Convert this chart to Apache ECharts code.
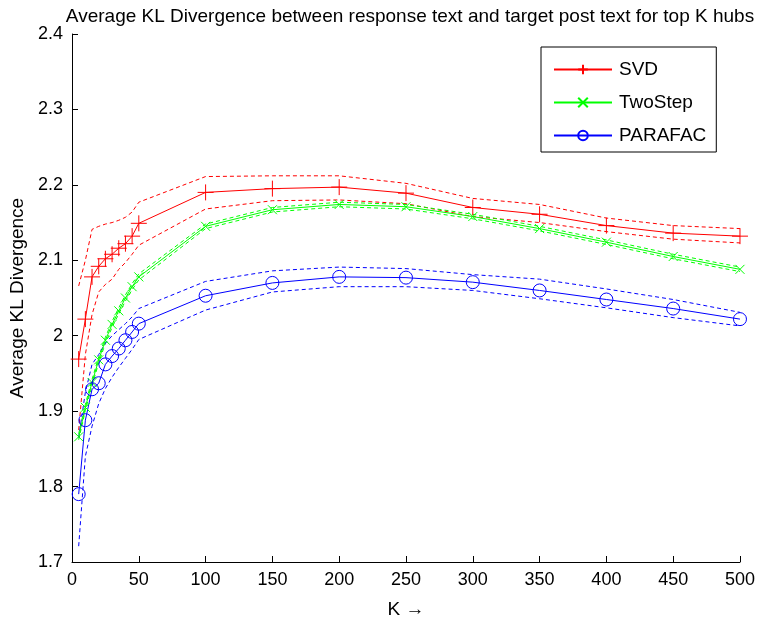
<!DOCTYPE html>
<html>
<head>
<meta charset="utf-8">
<script src="https://cdn.jsdelivr.net/npm/echarts@6/dist/echarts.min.js"></script>
<style>html,body{margin:0;padding:0;background:#fff}#c{width:758px;height:624px}</style>
</head>
<body>
<div id="c"></div>
<script>
const K = [5,10,15,20,25,30,35,40,45,50,100,150,200,250,300,350,400,450,500];
const svd    = [1.969,2.022,2.078,2.092,2.102,2.108,2.116,2.122,2.132,2.149,2.190,2.195,2.197,2.189,2.170,2.161,2.146,2.136,2.132];
const svdHi  = [2.066,2.100,2.141,2.145,2.148,2.150,2.153,2.157,2.164,2.177,2.211,2.212,2.212,2.202,2.182,2.174,2.156,2.146,2.142];
const svdLo  = [1.875,1.975,2.028,2.058,2.068,2.075,2.088,2.097,2.108,2.120,2.168,2.179,2.180,2.175,2.158,2.150,2.138,2.128,2.123];
const twostep= [1.866,1.905,1.938,1.968,1.994,2.015,2.033,2.050,2.065,2.078,2.145,2.167,2.174,2.171,2.158,2.142,2.124,2.105,2.088];
const twoHi  = [1.870,1.909,1.942,1.972,1.998,2.019,2.037,2.054,2.069,2.082,2.148,2.170,2.177,2.174,2.161,2.145,2.127,2.108,2.091];
const twoLo  = [1.862,1.901,1.934,1.964,1.990,2.011,2.029,2.046,2.061,2.074,2.142,2.164,2.171,2.168,2.155,2.139,2.121,2.102,2.085];
const parafac= [1.790,1.888,1.929,1.937,1.962,1.973,1.983,1.994,2.005,2.016,2.053,2.070,2.078,2.077,2.071,2.060,2.048,2.036,2.022];
const parHi  = [1.865,1.925,1.962,1.975,1.990,2.000,2.008,2.016,2.025,2.036,2.072,2.086,2.091,2.089,2.081,2.075,2.062,2.048,2.031];
const parLo  = [1.721,1.840,1.880,1.910,1.930,1.945,1.958,1.970,1.982,1.995,2.034,2.058,2.065,2.065,2.060,2.049,2.037,2.024,2.013];

const names = ['SVD','TwoStep','PARAFAC'];
const colors = ['#ff0000','#00ff00','#0000ff'];
const titleText = 'Average KL Divergence between response text and target post text for top K hubs';
const xName = 'K \u2192';
const yName = 'Average KL Divergence';

const pair = ys => K.map((k,i)=>[k, ys[i]]);
const FONT = 'Liberation Sans';

function mainSeries(name, ys, color, symbol, size, fill){
  return {name, type:'line', data:pair(ys), symbol, symbolSize:size, showSymbol:true,
    lineStyle:{color, width:1}, itemStyle:{color: fill, borderColor:color, borderWidth:1},
    emphasis:{disabled:true}, animation:false, z:3};
}
function bandSeries(ys, color){
  return {type:'line', data:pair(ys), symbol:'none', lineStyle:{color, width:1, type:[4,3]},
    emphasis:{disabled:true}, animation:false, silent:true, z:2};
}

const chart = echarts.init(document.getElementById('c'), null, {renderer:'canvas'});
chart.setOption({
  backgroundColor:'#fff',
  textStyle:{fontFamily:FONT},
  title:{text:titleText, left:405, top:2, textAlign:'center',
    textStyle:{fontFamily:FONT, fontSize:19, fontWeight:'normal', color:'#000'}},
  grid:{left:72, right:17, top:34, bottom:61, containLabel:false},
  legend:{data:names.map(n=>({name:n})), orient:'vertical', left:541, top:47,
    itemWidth:58, itemHeight:12, itemGap:14,
    padding:[13,10,7,12], borderColor:'#000', borderWidth:1, backgroundColor:'#fff',
    textStyle:{fontFamily:FONT, fontSize:19, color:'#000', padding:[0,0,0,2]}},
  xAxis:{type:'value', min:0, max:500, interval:50, name:xName, nameLocation:'middle', nameGap:38,
    nameTextStyle:{fontFamily:FONT, fontSize:19, color:'#000'},
    axisLine:{onZero:false, lineStyle:{color:'#000'}},
    axisTick:{inside:true, length:6, lineStyle:{color:'#000'}},
    axisLabel:{fontFamily:FONT, fontSize:18, color:'#000', margin:9},
    splitLine:{show:false}},
  yAxis:{type:'value', min:1.7, max:2.4, interval:0.1, name:yName, nameLocation:'middle', nameGap:41,
    nameTextStyle:{fontFamily:FONT, fontSize:19, color:'#000'},
    axisLine:{show:true, onZero:false, lineStyle:{color:'#000'}},
    axisTick:{show:true, inside:true, length:6, lineStyle:{color:'#000'}},
    axisLabel:{fontFamily:FONT, fontSize:18, color:'#000', margin:9,
      formatter: v => String(Math.round(v*10)/10)},
    splitLine:{show:false}},
  series:[
    bandSeries(svdHi, colors[0]), bandSeries(svdLo, colors[0]),
    bandSeries(twoHi, colors[1]), bandSeries(twoLo, colors[1]),
    bandSeries(parHi, colors[2]), bandSeries(parLo, colors[2]),
    mainSeries(names[0], svd, colors[0], 'path://M0,5L10,5M5,0L5,10', 16, colors[0]),
    mainSeries(names[1], twostep, colors[1], 'path://M0,0L10,10M10,0L0,10', 9, colors[1]),
    mainSeries(names[2], parafac, colors[2], 'circle', 13, 'rgba(0,0,0,0)')
  ]
});
</script>
</body>
</html>
